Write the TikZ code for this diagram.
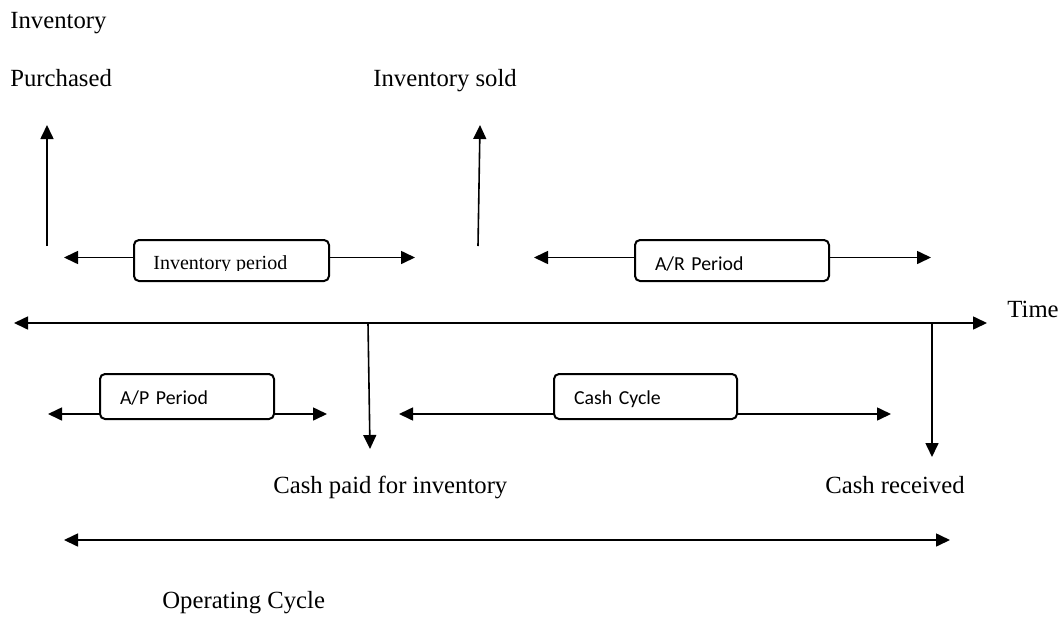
\documentclass[tikz,border=0pt]{standalone}
\usepackage{fontspec}
\setmainfont{Liberation Serif}
\newfontfamily\boxfont{Carlito}
\usetikzlibrary{arrows.meta}

\tikzset{
  >={Triangle[length=7pt,width=6.5pt]},
  arr/.style={line width=0.8pt},
  eventlabel/.style={anchor=base west, inner sep=0pt, font=\fontsize{12.35}{14}\selectfont},
  periodbox/.style={draw, line width=1pt, rounded corners=2.5pt, anchor=north west,
    inner xsep=10pt, inner ysep=0pt, align=left, font=\boxfont\fontsize{9.9}{12}\selectfont},
  toprow/.style={minimum height=20.5pt, text height=11pt, text depth=1.5pt},
  lowrow/.style={minimum height=22.5pt, text height=10pt, text depth=2pt},
}

\begin{document}
\begin{tikzpicture}[x=0.5pt,y=0.5pt,yscale=-1,xscale=1]
\useasboundingbox (0,0) rectangle (1060,616);

% Text Node
\node[eventlabel] (invpur1) at (10,28) {Inventory};
\node[eventlabel] (invpur2) at (10,86) {Purchased};
\node[eventlabel] (invsold) at (373,86) {Inventory sold};
\node[eventlabel] (time) at (1007,317) {Time};
\node[eventlabel] (cashpaid) at (273,493) {Cash paid for inventory};
\node[eventlabel] (cashrec) at (825,493) {Cash received};
\node[eventlabel] (opcycle) at (162,608) {Operating Cycle};

%Straight Lines: inventory purchased / sold
\coordinate (purbase) at (47,246);
\coordinate (purtip) at (47,125);
\draw[arr,->] (purbase) -- (purtip);
\coordinate (soldbase) at (478,246);
\coordinate (soldtip) at (480,125);
\draw[arr,->] (soldbase) -- (soldtip);

%Shape: Rounded Rectangles
\node[periodbox, toprow, minimum width=97.5pt] (invbox) at (133,239) {};
\node[periodbox, toprow, text width=77pt] (arbox) at (634,239) {A/R Period};
\node[periodbox, lowrow, text width=67pt] (apbox) at (99,373) {A/P Period};
\node[periodbox, lowrow, text width=71.5pt] (ccbox) at (553,373) {Cash Cycle};

% Text Node (cut by the box)
\begin{scope}
\clip (133,239) rectangle (328,270);
\node[anchor=base west, inner sep=0pt, font=\fontsize{10}{12}\selectfont] (invtext) at (153,269) {Inventory period};
\end{scope}

%Straight Lines: periods
\coordinate (invL) at (64,257.5);
\coordinate (invR) at (415,257.5);
\draw[arr,->] (invbox.west |- invL) -- (invL);
\draw[arr,->] (invbox.east |- invR) -- (invR);
\coordinate (arL) at (534,257.5);
\coordinate (arR) at (931,257.5);
\draw[arr,->] (arbox.west |- arL) -- (arL);
\draw[arr,->] (arbox.east |- arR) -- (arR);
\coordinate (apL) at (48,414);
\coordinate (apR) at (327,414);
\draw[arr,->] (apbox.west |- apL) -- (apL);
\draw[arr,->] (apbox.east |- apR) -- (apR);
\coordinate (ccL) at (399,414);
\coordinate (ccR) at (891,414);
\draw[arr,->] (ccbox.west |- ccL) -- (ccL);
\draw[arr,->] (ccbox.east |- ccR) -- (ccR);

%Straight Lines: time axis
\coordinate (timeL) at (14,323);
\coordinate (timeR) at (987,323);
\draw[arr,<->] (timeL) -- (timeR);

%Straight Lines: cash paid / received
\coordinate (paytop) at (368,323);
\coordinate (paytip) at (370,449);
\draw[arr,->] (paytop) -- (paytip);
\coordinate (rectop) at (932,323);
\coordinate (rectip) at (932,457);
\draw[arr,->] (rectop) -- (rectip);

%Straight Lines: operating cycle
\coordinate (opL) at (64,540);
\coordinate (opR) at (950,540);
\draw[arr,<->] (opL) -- (opR);

\end{tikzpicture}
\end{document}
